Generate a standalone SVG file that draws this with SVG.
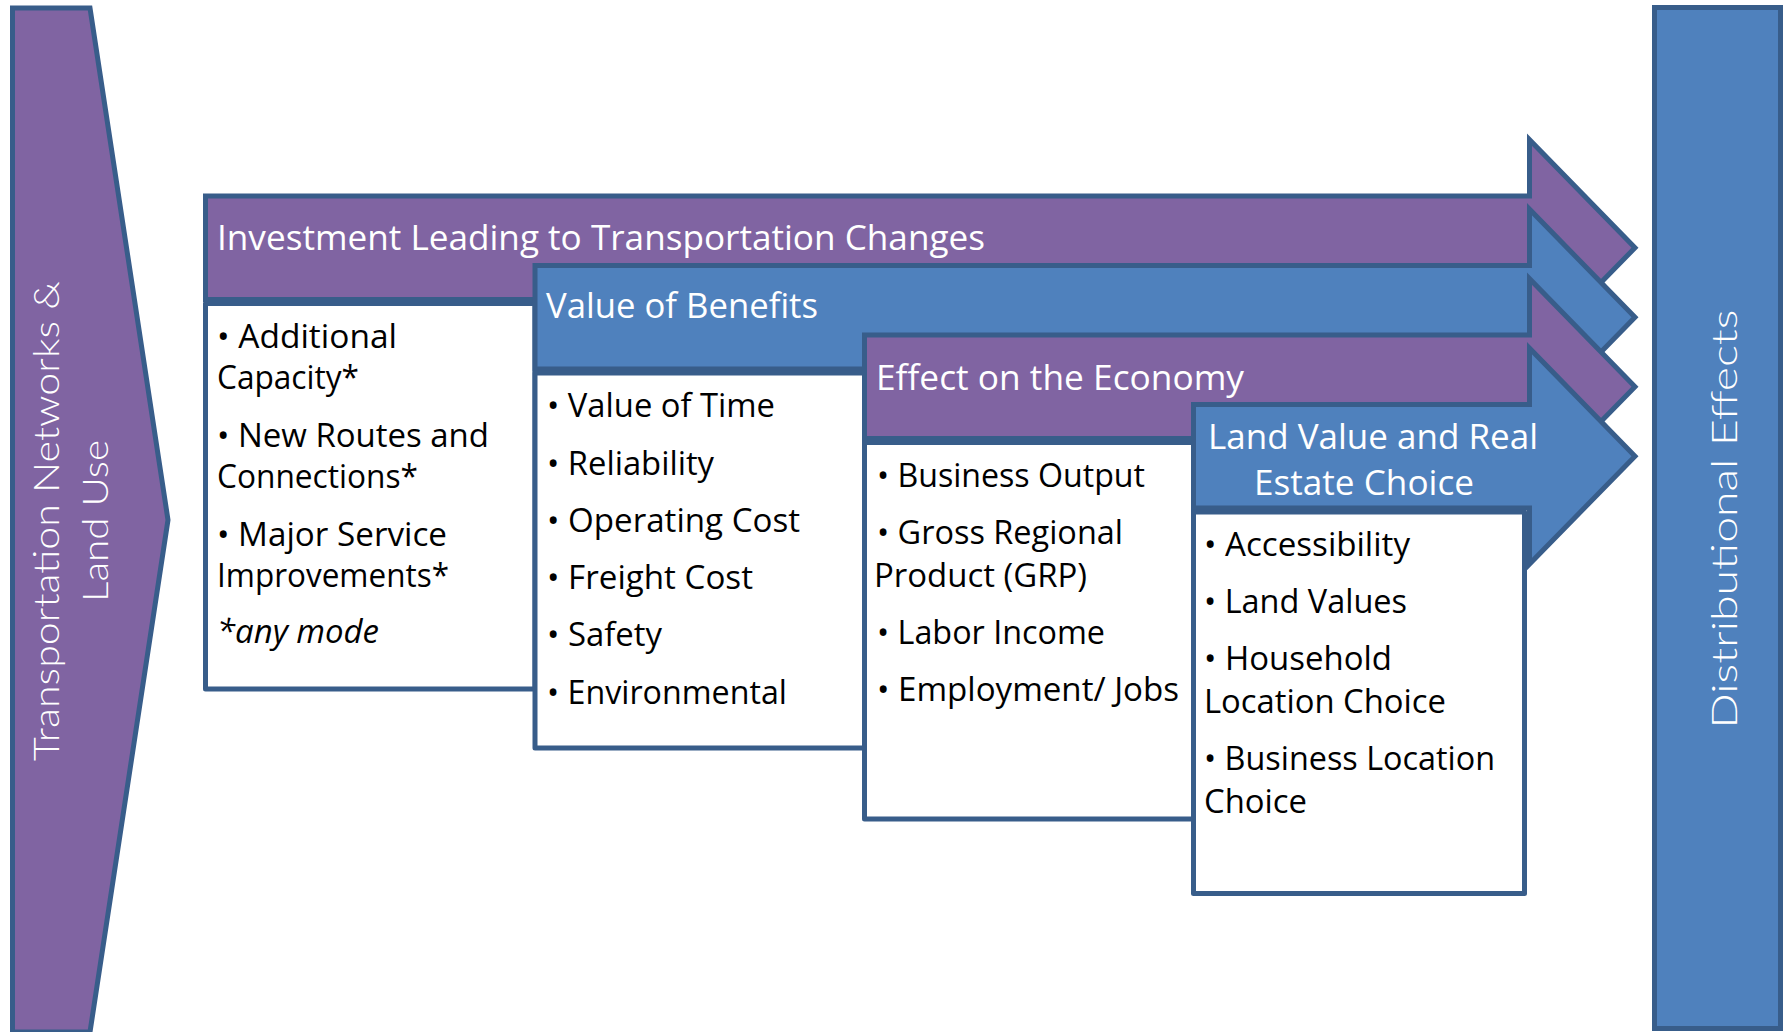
<svg xmlns="http://www.w3.org/2000/svg" width="1783" height="1032" viewBox="0 0 1783 1032">
<style>
.edge{stroke:#385D8A;stroke-width:5;stroke-linejoin:miter}
.box{fill:#FFFFFF;stroke:#385D8A;stroke-width:5;stroke-linejoin:round}
.purple{fill:#8064A2}
.blue{fill:#4F81BD}
.side{font-family:Lato,"DejaVu Sans",sans-serif;font-weight:300;font-size:36px;fill:#FFFFFF;text-anchor:middle}
.hdr{font-family:"Open Sans","Noto Sans",sans-serif;font-size:35px;fill:#FFFFFF}
.txt{font-family:"Open Sans","Noto Sans",sans-serif;font-size:33px;fill:#000000}
.it{font-style:italic}
</style>
<rect width="1783" height="1032" fill="#FFFFFF"/>
<g id="connectors"></g>
<g id="source">
<path class="edge purple" d="M12.5,8 H90 L168,520 L90,1032 H12.5 Z"/>
<text class="side" transform="translate(59,521) rotate(-90)" textLength="480" lengthAdjust="spacingAndGlyphs">Transportation Networks &amp;</text>
<text class="side" transform="translate(108,521) rotate(-90)" textLength="162" lengthAdjust="spacingAndGlyphs">Land Use</text>
</g>
<g id="investment">
<path class="edge purple" d="M205.5,196 H1529.5 V139.75 L1635,247.75 L1529.5,355.5 V299.5 H205.5 Z"/>
<text class="hdr" x="217" y="250" textLength="768" lengthAdjust="spacingAndGlyphs">Investment Leading to Transportation Changes</text>
<rect class="box" x="205.5" y="303.5" width="329.5" height="385.5"/>
<text class="txt" x="217" y="348" textLength="180" lengthAdjust="spacingAndGlyphs">• Additional</text>
<text class="txt" x="217" y="389" textLength="142" lengthAdjust="spacingAndGlyphs">Capacity*</text>
<text class="txt" x="217" y="447" textLength="272" lengthAdjust="spacingAndGlyphs">• New Routes and</text>
<text class="txt" x="217" y="488" textLength="201" lengthAdjust="spacingAndGlyphs">Connections*</text>
<text class="txt" x="217" y="546" textLength="230" lengthAdjust="spacingAndGlyphs">• Major Service</text>
<text class="txt" x="217" y="587" textLength="232" lengthAdjust="spacingAndGlyphs">Improvements*</text>
<text class="txt it" x="217" y="643" textLength="162" lengthAdjust="spacingAndGlyphs">*any mode</text>
</g>
<g id="benefits">
<path class="edge blue" d="M535,265.5 H1529.5 V209.25 L1635,317.25 L1529.5,425 V369 H535 Z"/>
<text class="hdr" x="546" y="318" textLength="272" lengthAdjust="spacingAndGlyphs">Value of Benefits</text>
<rect class="box" x="535" y="373" width="329.5" height="375"/>
<text class="txt" x="547" y="417" textLength="228" lengthAdjust="spacingAndGlyphs">• Value of Time</text>
<text class="txt" x="547" y="475" textLength="167" lengthAdjust="spacingAndGlyphs">• Reliability</text>
<text class="txt" x="547" y="532" textLength="253" lengthAdjust="spacingAndGlyphs">• Operating Cost</text>
<text class="txt" x="547" y="589" textLength="206" lengthAdjust="spacingAndGlyphs">• Freight Cost</text>
<text class="txt" x="547" y="646" textLength="115" lengthAdjust="spacingAndGlyphs">• Safety</text>
<text class="txt" x="547" y="704" textLength="240" lengthAdjust="spacingAndGlyphs">• Environmental</text>
</g>
<g id="economy">
<path class="edge purple" d="M864.5,335 H1529.5 V278.75 L1635,386.75 L1529.5,494.5 V438.5 H864.5 Z"/>
<text class="hdr" x="876" y="390" textLength="368" lengthAdjust="spacingAndGlyphs">Effect on the Economy</text>
<rect class="box" x="864.5" y="442.5" width="329" height="376.5"/>
<text class="txt" x="877" y="487" textLength="268" lengthAdjust="spacingAndGlyphs">• Business Output</text>
<text class="txt" x="877" y="544" textLength="246" lengthAdjust="spacingAndGlyphs">• Gross Regional</text>
<text class="txt" x="874" y="587" textLength="213" lengthAdjust="spacingAndGlyphs">Product (GRP)</text>
<text class="txt" x="877" y="644" textLength="228" lengthAdjust="spacingAndGlyphs">• Labor Income</text>
<text class="txt" x="877" y="701" textLength="302" lengthAdjust="spacingAndGlyphs">• Employment/ Jobs</text>
</g>
<g id="landvalue">
<path class="edge blue" d="M1193.5,404.5 H1529.5 V348.25 L1635,456.25 L1529.5,564 V508 H1193.5 Z"/>
<text class="hdr" x="1208" y="449" textLength="330" lengthAdjust="spacingAndGlyphs">Land Value and Real</text>
<text class="hdr" x="1254" y="495" textLength="220" lengthAdjust="spacingAndGlyphs">Estate Choice</text>
<rect class="box" x="1193.5" y="512" width="331" height="381.5"/>
<text class="txt" x="1204" y="556" textLength="206" lengthAdjust="spacingAndGlyphs">• Accessibility</text>
<text class="txt" x="1204" y="613" textLength="203" lengthAdjust="spacingAndGlyphs">• Land Values</text>
<text class="txt" x="1204" y="670" textLength="188" lengthAdjust="spacingAndGlyphs">• Household</text>
<text class="txt" x="1204" y="713" textLength="242" lengthAdjust="spacingAndGlyphs">Location Choice</text>
<text class="txt" x="1204" y="770" textLength="291" lengthAdjust="spacingAndGlyphs">• Business Location</text>
<text class="txt" x="1204" y="813" textLength="103" lengthAdjust="spacingAndGlyphs">Choice</text>
</g>
<g id="distributional">
<rect class="edge blue" x="1654.5" y="7.5" width="126" height="1021"/>
<text class="side" transform="translate(1737,519) rotate(-90)" textLength="419" lengthAdjust="spacingAndGlyphs">Distributional Effects</text>
</g>
</svg>
